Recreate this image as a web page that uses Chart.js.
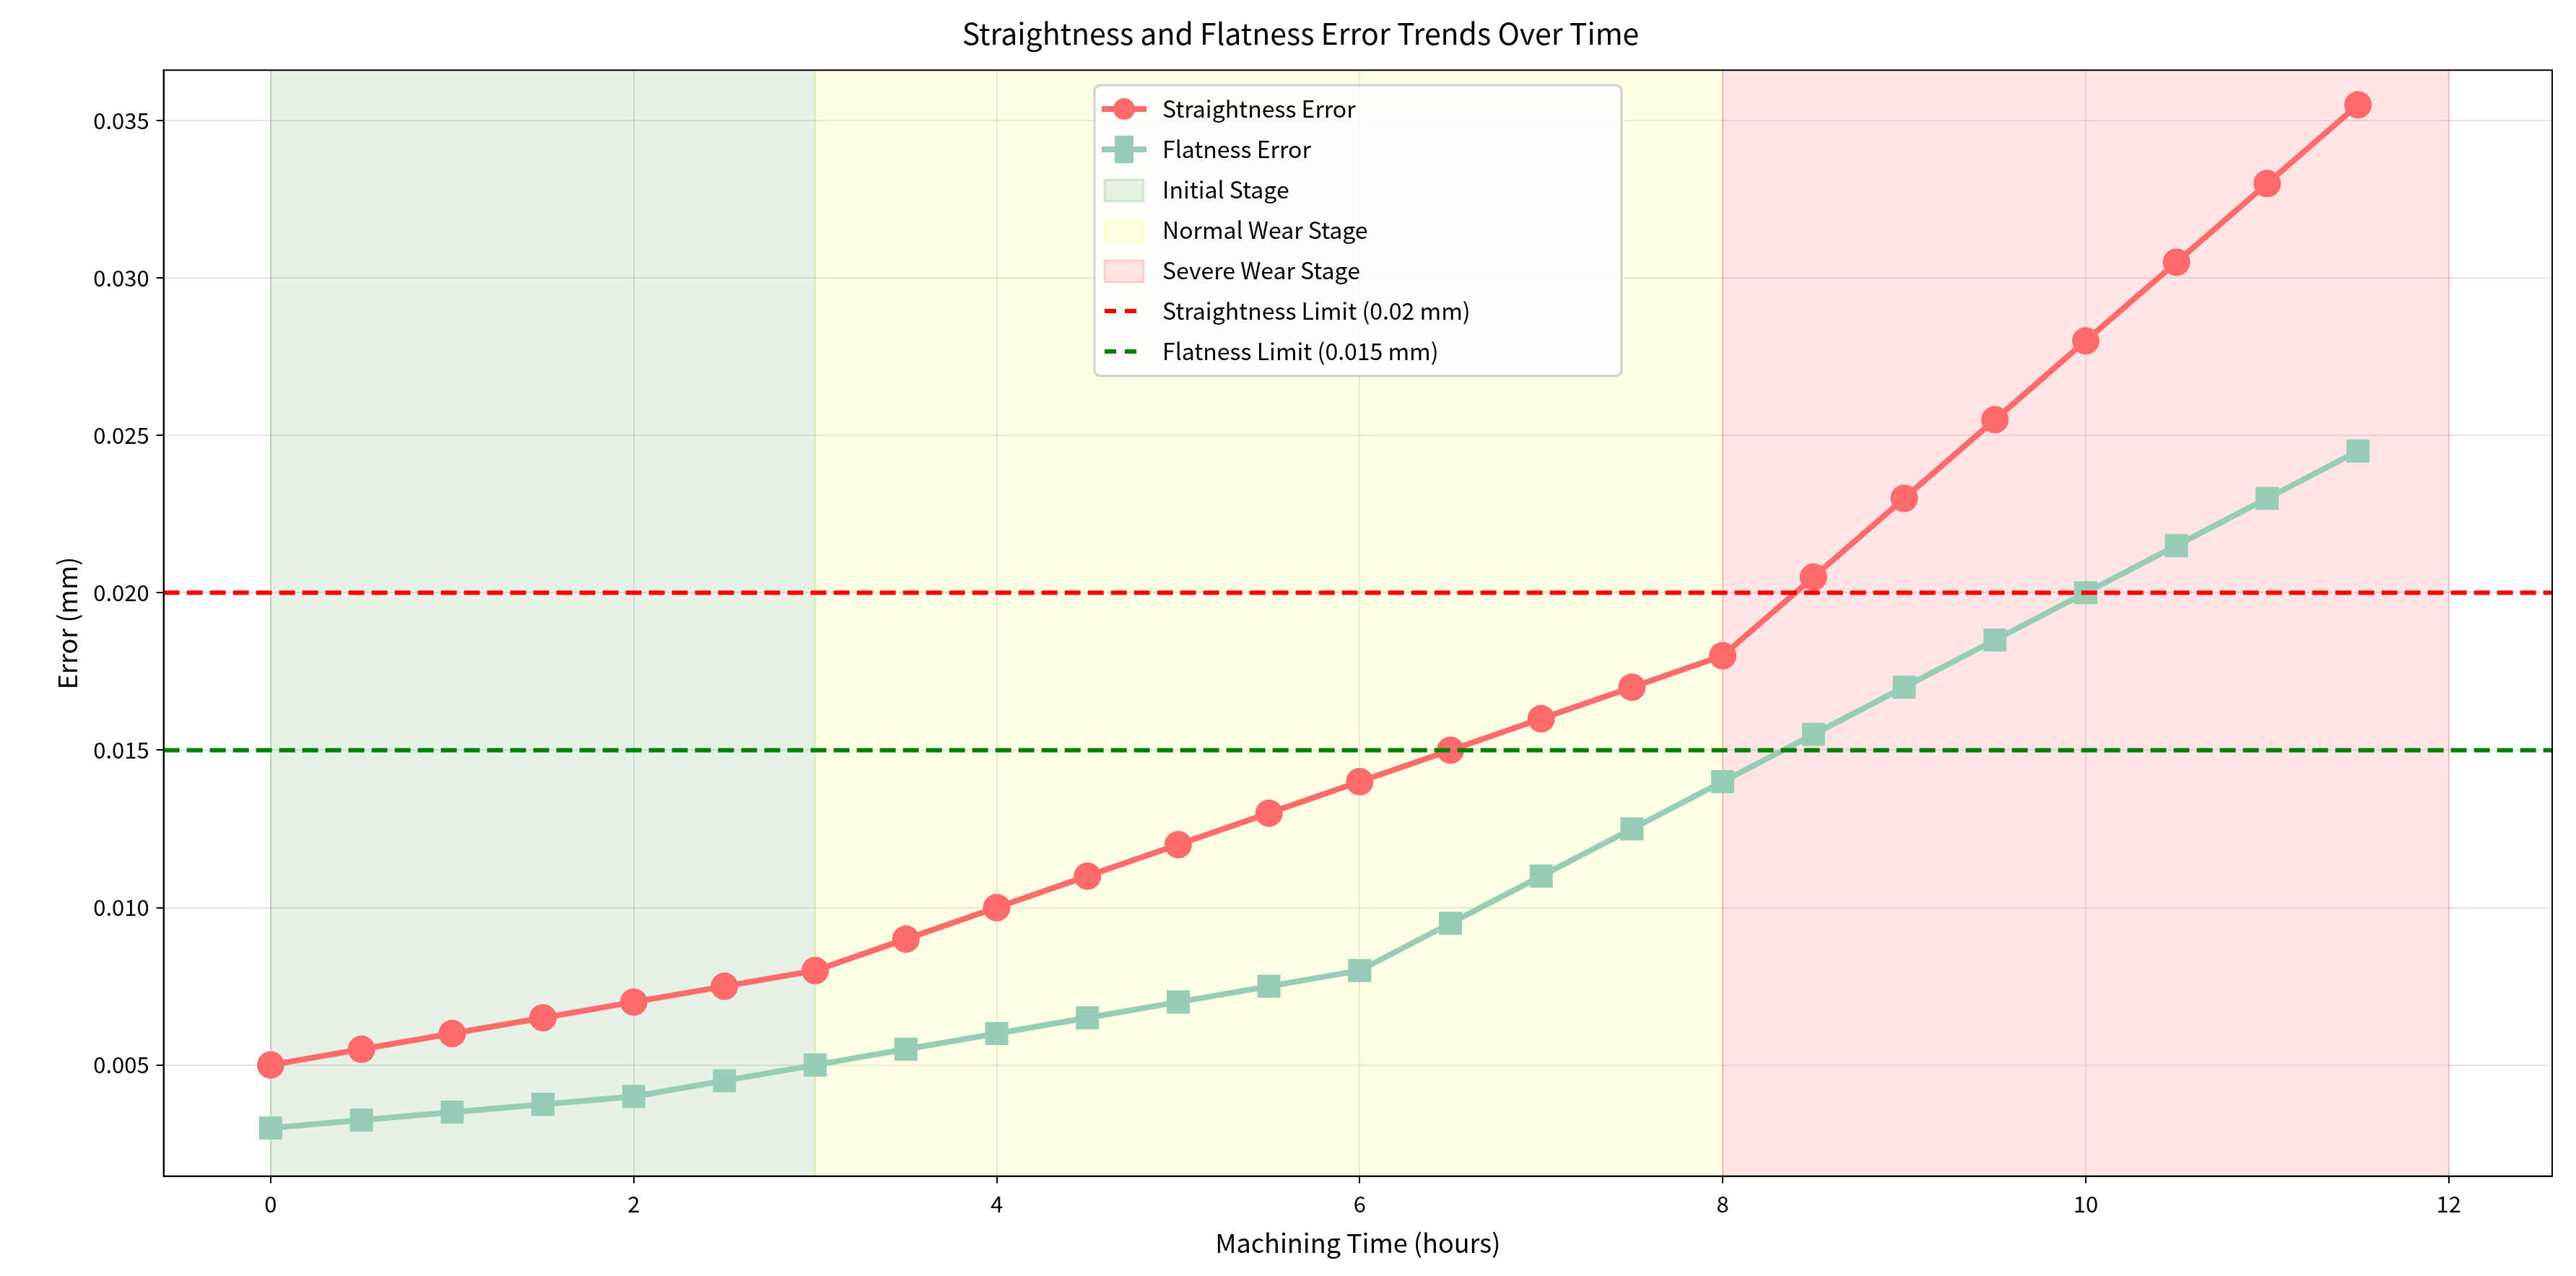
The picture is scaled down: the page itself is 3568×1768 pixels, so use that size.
<!DOCTYPE html>
<html>
<head>
<meta charset="utf-8">
<script src="https://cdn.jsdelivr.net/npm/chart.js@4.4.0/dist/chart.umd.min.js"></script>
<style>
  html, body { margin: 0; padding: 0; background: #fff; }
  canvas { display: block; }
</style>
</head>
<body>
<canvas id="myChart" width="3568" height="1768"></canvas>
<script>
// data
const hours = [0, 0.5, 1, 1.5, 2, 2.5, 3, 3.5, 4, 4.5, 5, 5.5, 6, 6.5, 7, 7.5, 8, 8.5, 9, 9.5, 10, 10.5, 11, 11.5]
const straightness = [0.005, 0.0055, 0.006, 0.0065, 0.007, 0.0075, 0.008, 0.009, 0.010, 0.011, 0.012, 0.013,
  0.014, 0.015, 0.016, 0.017, 0.018, 0.0205, 0.023, 0.0255, 0.028, 0.0305, 0.033, 0.0355]
const flatness = [0.003, 0.00325, 0.0035, 0.00375, 0.004, 0.0045, 0.005, 0.0055, 0.006, 0.0065, 0.007, 0.0075,
  0.008, 0.0095, 0.011, 0.0125, 0.014, 0.0155, 0.017, 0.0185, 0.020, 0.0215, 0.023, 0.0245]
const stages = [
  { label: 'Initial Stage', from: 0, to: 3, color: 'rgba(0,128,0,0.1)', edge: 'rgba(0,128,0,0.15)' },
  { label: 'Normal Wear Stage', from: 3, to: 8, color: 'rgba(255,255,0,0.1)', edge: 'rgba(255,255,0,0.15)' },
  { label: 'Severe Wear Stage', from: 8, to: 12, color: 'rgba(255,0,0,0.1)', edge: 'rgba(255,0,0,0.15)' },
]
const straightLimit = 0.02
const flatLimit = 0.015
const xTicks = [0, 2, 4, 6, 8, 10, 12]
const yTicks = [0.005, 0.010, 0.015, 0.020, 0.025, 0.030, 0.035]
const xMin = -0.59, xMax = 12.57, yMin = 0.00147, yMax = 0.0366

const FONT = "'Noto Sans CJK SC', 'DejaVu Sans Mono', monospace"

const bandPlugin = {
  id: 'bands',
  beforeDatasetsDraw(chart) {
    const { ctx, chartArea, scales } = chart
    ctx.save()
    stages.forEach(s => {
      const x0 = scales.x.getPixelForValue(s.from)
      const x1 = scales.x.getPixelForValue(s.to)
      ctx.fillStyle = s.color
      ctx.fillRect(x0, chartArea.top, x1 - x0, chartArea.bottom - chartArea.top)
      ctx.strokeStyle = s.edge
      ctx.lineWidth = 2
      ctx.beginPath()
      ctx.moveTo(x0, chartArea.top); ctx.lineTo(x0, chartArea.bottom)
      ctx.moveTo(x1, chartArea.top); ctx.lineTo(x1, chartArea.bottom)
      ctx.stroke()
    })
    ctx.restore()
  },
}

const legendPlugin = {
  id: 'boxLegend',
  afterDraw(chart) {
    const ctx = chart.ctx
    const a = chart.chartArea
    // frame around plot
    ctx.save()
    ctx.strokeStyle = '#000'; ctx.lineWidth = 2
    ctx.strokeRect(a.left, a.top, a.right - a.left, a.bottom - a.top)
    const bx = 1516, by = 118, bw = 730, bh = 403, row = 56
    ctx.fillStyle = 'rgba(255,255,255,0.8)'
    ctx.strokeStyle = '#d0d0d0'
    ctx.lineWidth = 3
    ctx.beginPath()
    ctx.roundRect(bx, by, bw, bh, 8)
    ctx.fill(); ctx.stroke()
    ctx.font = '32px ' + FONT
    ctx.textBaseline = 'middle'
    const items = [
      { t: 'Straightness Error', k: 'line', c: '#ff6b6b', m: 'circle' },
      { t: 'Flatness Error', k: 'line', c: '#96cdb4', m: 'square' },
      { t: stages[0].label, k: 'box', c: stages[0].color, e: stages[0].edge },
      { t: stages[1].label, k: 'box', c: stages[1].color, e: stages[1].edge },
      { t: stages[2].label, k: 'box', c: stages[2].color, e: stages[2].edge },
      { t: 'Straightness Limit (0.02 mm)', k: 'dash', c: 'red' },
      { t: 'Flatness Limit (0.015 mm)', k: 'dash', c: 'green' },
    ]
    items.forEach((it, i) => {
      const y = by + 33 + i * row
      const x0 = bx + 10, x1 = bx + 72
      if (it.k === 'line') {
        ctx.strokeStyle = it.c; ctx.lineWidth = 8
        ctx.beginPath(); ctx.moveTo(x0, y); ctx.lineTo(x1, y); ctx.stroke()
        ctx.fillStyle = it.c
        if (it.m === 'circle') { ctx.beginPath(); ctx.arc((x0 + x1) / 2, y, 15, 0, Math.PI * 2); ctx.fill() }
        else ctx.fillRect((x0 + x1) / 2 - 13, y - 19, 26, 38)
      } else if (it.k === 'box') {
        ctx.fillStyle = it.c; ctx.strokeStyle = it.e; ctx.lineWidth = 3
        ctx.fillRect(x0 + 4, y - 14, 54, 30); ctx.strokeRect(x0 + 4, y - 14, 54, 30)
      } else {
        ctx.strokeStyle = it.c; ctx.lineWidth = 6; ctx.setLineDash([16, 12])
        ctx.beginPath(); ctx.moveTo(x0 + 4, y); ctx.lineTo(x1 - 4, y); ctx.stroke()
        ctx.setLineDash([])
      }
      ctx.fillStyle = '#000'
      ctx.fillText(it.t, bx + 94, y)
    })
    ctx.restore()
  },
}

const ctx = document.getElementById('myChart').getContext('2d')
new Chart(ctx, {
  type: 'scatter',
  data: {
    datasets: [
      {
        label: 'Straightness Error',
        data: hours.map((h, i) => ({ x: h, y: straightness[i] })),
        showLine: true, borderColor: '#ff6b6b', backgroundColor: '#ff6b6b',
        borderWidth: 8, pointRadius: 15, pointStyle: 'circle', order: 1,
      },
      {
        label: 'Flatness Error',
        data: hours.map((h, i) => ({ x: h, y: flatness[i] })),
        showLine: true, borderColor: '#96cdb4', backgroundColor: '#96cdb4',
        borderWidth: 8, pointRadius: 17, pointStyle: 'rect', order: 2,
      },
      {
        label: 'Straightness Limit (0.02 mm)',
        data: [{ x: xMin, y: straightLimit }, { x: xMax, y: straightLimit }],
        showLine: true, borderColor: 'red', borderWidth: 6, borderDash: [22, 10], pointRadius: 0, order: 0,
      },
      {
        label: 'Flatness Limit (0.015 mm)',
        data: [{ x: xMin, y: flatLimit }, { x: xMax, y: flatLimit }],
        showLine: true, borderColor: 'green', borderWidth: 6, borderDash: [22, 10], pointRadius: 0, order: 0,
      },
    ],
  },
  plugins: [bandPlugin, legendPlugin],
  options: {
    responsive: false,
    devicePixelRatio: 1,
    animation: false,
    layout: { padding: { left: 68, right: 33, top: 10, bottom: 20 } },
    plugins: {
      legend: { display: false },
      tooltip: { enabled: false },
      title: {
        display: true, text: 'Straightness and Flatness Error Trends Over Time',
        color: '#000', font: { family: FONT, size: 41, weight: 'normal' }, padding: { top: 12, bottom: 26 },
      },
    },
    scales: {
      x: {
        type: 'linear', min: xMin, max: xMax,
        afterBuildTicks: a => { a.ticks = xTicks.map(v => ({ value: v })) },
        ticks: { color: '#000', font: { family: FONT, size: 31 }, padding: 10 },
        grid: { color: 'rgba(0,0,0,0.1)', lineWidth: 2, tickLength: 10, tickColor: '#000' },
        border: { color: '#000', width: 2 },
        title: { display: true, text: 'Machining Time (hours)', color: '#000', font: { family: FONT, size: 36 } },
      },
      y: {
        min: yMin, max: yMax,
        afterBuildTicks: a => { a.ticks = yTicks.map(v => ({ value: v })) },
        ticks: { color: '#000', font: { family: FONT, size: 31 }, padding: 10, callback: v => v.toFixed(3) },
        grid: { color: 'rgba(0,0,0,0.1)', lineWidth: 2, tickLength: 10, tickColor: '#000' },
        border: { color: '#000', width: 2 },
        title: { display: true, text: 'Error (mm)', color: '#000', font: { family: FONT, size: 36 } },
      },
    },
  },
})
</script>
</body>
</html>
